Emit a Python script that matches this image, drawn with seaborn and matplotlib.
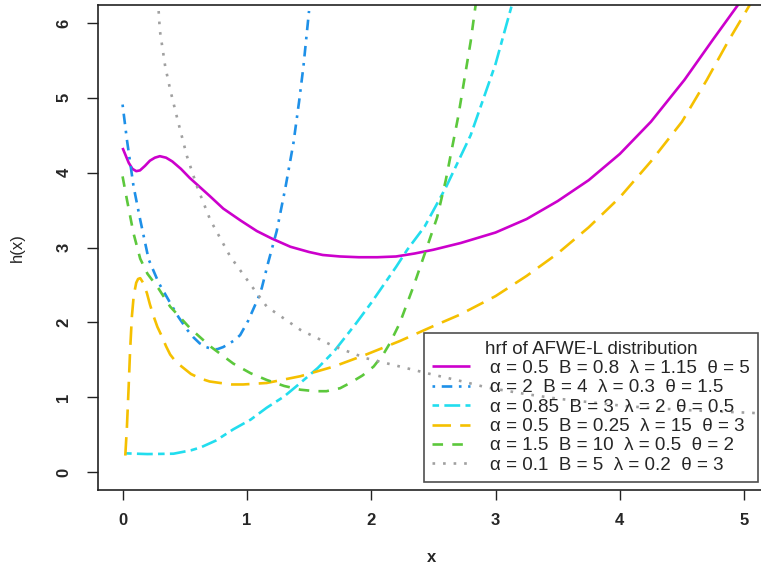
import numpy as np
import pandas as pd
import matplotlib
matplotlib.use("Agg")
import matplotlib.pyplot as plt
import seaborn as sns

# ---- data ----
mag_x = [0.0, 0.02, 0.05, 0.08, 0.11, 0.14, 0.18, 0.22, 0.26, 0.3, 0.35, 0.4, 0.47, 0.54, 0.62, 0.7, 0.81,
         0.95, 1.08, 1.2, 1.35, 1.5, 1.61, 1.75, 1.9, 2.05, 2.2, 2.35, 2.5, 2.72, 3.0, 3.25, 3.5, 3.75,
         4.0, 4.25, 4.52, 4.75, 4.95, 5.05]
mag_y = [4.33, 4.25, 4.13, 4.05, 4.02, 4.03, 4.09, 4.16, 4.20, 4.22, 4.20, 4.15, 4.05, 3.93, 3.81, 3.69, 3.52,
         3.36, 3.22, 3.12, 3.01, 2.94, 2.90, 2.88, 2.87, 2.87, 2.88, 2.92, 2.97, 3.06, 3.20, 3.38, 3.62, 3.90,
         4.25, 4.68, 5.24, 5.78, 6.24, 6.45]

blu_x = [0.0, 0.035, 0.088, 0.142, 0.21, 0.29, 0.383, 0.45, 0.52, 0.57, 0.62, 0.67, 0.71, 0.76, 0.81,
         0.85, 0.9, 0.946, 1.01, 1.05, 1.09, 1.12, 1.17, 1.24, 1.31, 1.375, 1.42, 1.455, 1.5]
blu_y = [4.91, 4.44, 3.82, 3.37, 2.84, 2.53, 2.26, 2.07, 1.90, 1.80, 1.72, 1.67, 1.65, 1.64, 1.67,
         1.71, 1.76, 1.83, 2.02, 2.17, 2.32, 2.46, 2.79, 3.22, 3.80, 4.40, 4.95, 5.42, 6.16]

cya_x = [0.02, 0.2, 0.41, 0.55, 0.63, 0.75, 0.89, 1.03, 1.16, 1.3, 1.43, 1.57, 1.70, 1.88, 2.0, 2.10,
         2.2, 2.29, 2.43, 2.6, 2.8, 3.0, 3.1, 3.15]
cya_y = [0.25, 0.24, 0.245, 0.29, 0.33, 0.42, 0.57, 0.70, 0.86, 1.01, 1.19, 1.39, 1.61, 1.99, 2.26, 2.50,
         2.74, 2.97, 3.28, 3.8, 4.5, 5.45, 6.05, 6.35]

yel_x = [0.022, 0.035, 0.048, 0.06, 0.075, 0.09, 0.11, 0.125, 0.142, 0.165, 0.196, 0.22, 0.25, 0.28, 0.317,
         0.35, 0.383, 0.43, 0.49, 0.55, 0.625, 0.7, 0.785, 0.88, 0.97, 1.16, 1.43, 1.70, 1.96, 2.23, 2.50,
         2.71, 3.0, 3.25, 3.5, 3.75, 4.0, 4.25, 4.5, 4.70, 4.87, 5.045, 5.1]
yel_y = [0.22, 0.6, 1.10, 1.6, 2.08, 2.36, 2.53, 2.58, 2.59, 2.53, 2.39, 2.24, 2.08, 1.94, 1.81,
         1.68, 1.57, 1.47, 1.39, 1.31, 1.25, 1.21, 1.19, 1.17, 1.17, 1.19, 1.28, 1.41, 1.57, 1.75, 1.95,
         2.10, 2.35, 2.62, 2.92, 3.27, 3.67, 4.15, 4.68, 5.24, 5.75, 6.24, 6.4]

grn_x = [0.0, 0.035, 0.088, 0.142, 0.2, 0.29, 0.383, 0.544, 0.705, 0.89, 1.03, 1.16, 1.3, 1.43, 1.55,
         1.64, 1.75, 1.83, 1.93, 2.02, 2.1, 2.15, 2.23, 2.34, 2.45, 2.53, 2.6, 2.7, 2.8, 2.84, 2.87]
grn_y = [3.95, 3.64, 3.19, 2.85, 2.65, 2.45, 2.21, 1.92, 1.68, 1.45, 1.32, 1.23, 1.15, 1.10, 1.08,
         1.08, 1.12, 1.19, 1.29, 1.41, 1.58, 1.72, 1.99, 2.48, 3.01, 3.40, 3.9, 4.75, 5.75, 6.24, 6.5]

gry_x = [0.285, 0.30, 0.343, 0.383, 0.442, 0.518, 0.598, 0.705, 0.866, 1.08, 1.16, 1.43, 1.70, 1.96,
         2.23, 2.50, 2.71, 2.93, 3.25, 3.5, 4.05, 4.5, 5.07, 5.2]
gry_y = [6.3, 5.9, 5.42, 5.11, 4.71, 4.22, 3.82, 3.37, 2.88, 2.39, 2.21, 1.90, 1.68, 1.52,
         1.41, 1.30, 1.22, 1.13, 1.04, 0.98, 0.88, 0.83, 0.79, 0.77]

labels = [
    "α = 0.5  B = 0.8  λ = 1.15  θ = 5",
    "α = 2  B = 4  λ = 0.3  θ = 1.5",
    "α = 0.85  B = 3  λ = 2  θ = 0.5",
    "α = 0.5  B = 0.25  λ = 15  θ = 3",
    "α = 1.5  B = 10  λ = 0.5  θ = 2",
    "α = 0.1  B = 5  λ = 0.2  θ = 3",
]
legend_title = "hrf of AFWE-L distribution"
x_ticks = [0, 1, 2, 3, 4, 5]
y_ticks = [0, 1, 2, 3, 4, 5, 6]

# ---- styling ----
sns.set_theme(style="ticks")
plt.rcParams["font.family"] = ["Liberation Sans", "DejaVu Sans"]

series = [
    (mag_x, mag_y, "#CC00CC", None),
    (blu_x, blu_y, "#1E90E8", (1, 2.5, 4, 2.5)),
    (cya_x, cya_y, "#22DDEE", (2.5, 2, 6, 2)),
    (yel_x, yel_y, "#F5C000", (7, 3.5)),
    (grn_x, grn_y, "#5CC83C", (4, 3.5)),
    (gry_x, gry_y, "#A0A0A0", (1, 3)),
]

W, H = 761, 566
fig = plt.figure(figsize=(W / 100, H / 100), dpi=100)
ax_l, ax_r, ax_b, ax_t = 97.7, 769.0, 490.0, 5.0
ax = fig.add_axes([ax_l / W, 1 - ax_b / H, (ax_r - ax_l) / W, (ax_b - ax_t) / H])

for (xs, ys, col, dash), lab in zip(series, labels):
    df = pd.DataFrame({"x": xs, "y": ys})
    sns.lineplot(data=df, x="x", y="y", ax=ax, color=col, linewidth=1.9,
                 sort=False, estimator=None, label=lab)
    line = ax.lines[-1]
    if dash is not None:
        line.set_dashes(dash)
    line.set_solid_capstyle("butt")
    line.set_dash_capstyle("butt")
    line.set_solid_joinstyle("round")

ax.set_xlim(-0.2, 5.2)
ax.set_ylim(-0.24, 6.24)
ax.set_xticks(x_ticks)
ax.set_yticks(y_ticks)
ax.set_xticklabels([str(t) for t in x_ticks], fontweight="bold", fontsize=12)
ax.set_yticklabels([str(t) for t in y_ticks], fontweight="bold", fontsize=12, rotation=90, va="center")
ax.tick_params(axis="x", length=7.5, width=1.0, pad=9, color="#222222")
ax.tick_params(axis="y", length=8, width=1.0, pad=11, color="#222222")
for s in ax.spines.values():
    s.set_color("#222222")
    s.set_linewidth(1.2)

ax.set_xlabel("x", fontsize=12, fontweight="bold")
ax.set_ylabel("h(x)", fontsize=12)
ax.xaxis.set_label_coords((432 - ax_l) / (ax_r - ax_l), -(558 - ax_b) / (ax_b - ax_t), transform=ax.transAxes)
ax.yaxis.set_label_coords(-(ax_l - 17.5) / (ax_r - ax_l), 0.5, transform=ax.transAxes)
ax.xaxis.label.set_va("center")
ax.yaxis.label.set_va("center")

leg = ax.legend(title=legend_title, loc="lower right",
                bbox_to_anchor=(758 / W, 1 - 481.7 / H), bbox_transform=fig.transFigure,
                frameon=True, fancybox=False, fontsize=13.5, title_fontsize=13.5,
                handlelength=2.0, handletextpad=1.1, labelspacing=0.12,
                borderpad=0.42, borderaxespad=0)
frame = leg.get_frame()
frame.set_edgecolor("#222222")
frame.set_linewidth(1.2)
frame.set_facecolor("none")

fig.savefig("out.png", dpi=100)
